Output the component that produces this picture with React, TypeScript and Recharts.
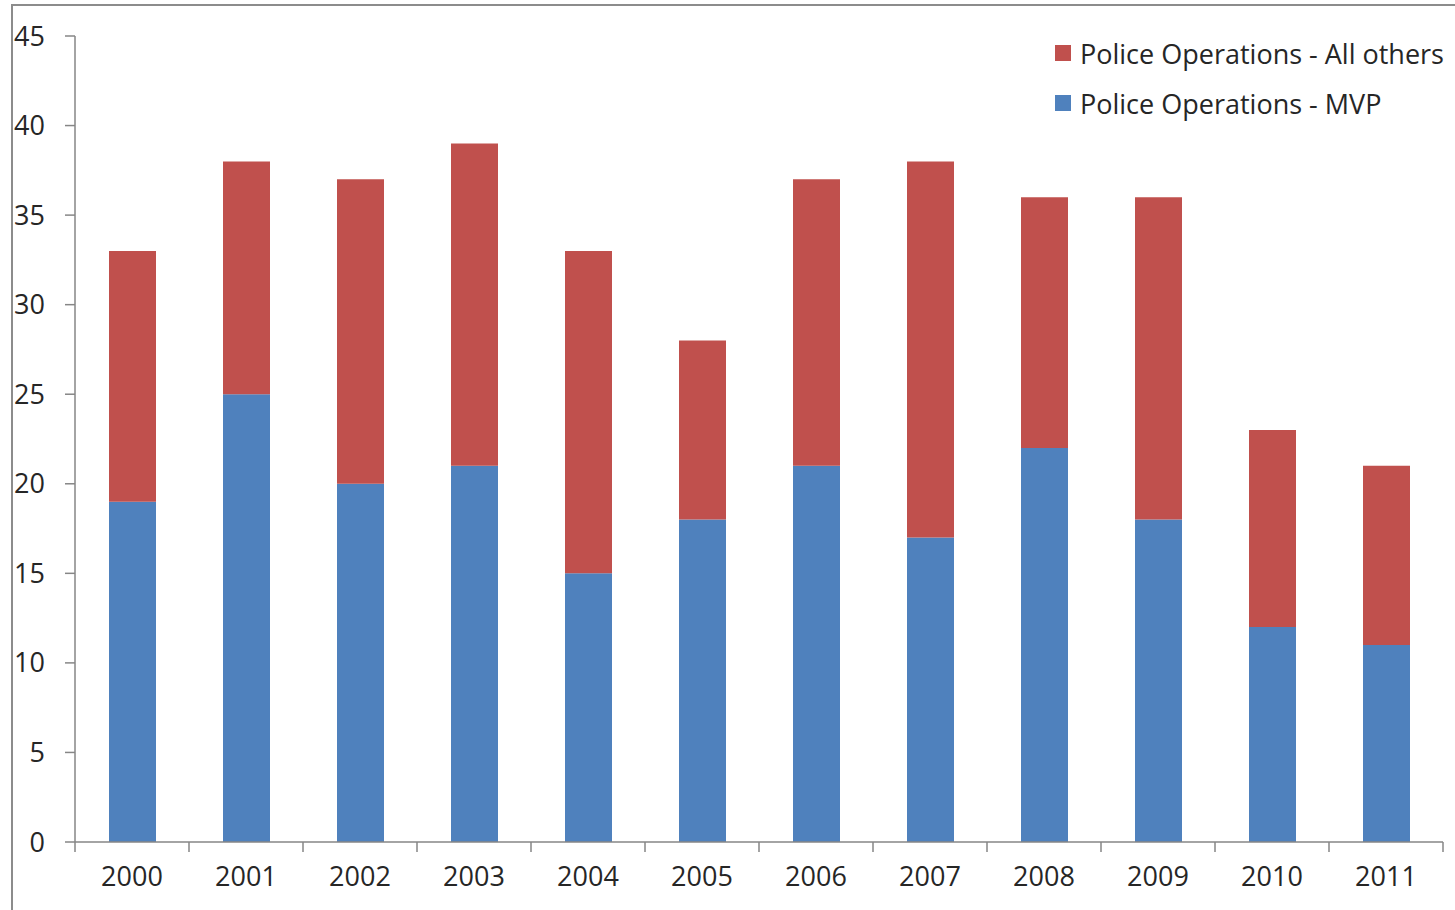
import React from "react";
import { BarChart, Bar, XAxis, YAxis, Legend } from "recharts";

const years = ["2000", "2001", "2002", "2003", "2004", "2005", "2006", "2007", "2008", "2009", "2010", "2011"];
const mvp = [19, 25, 20, 21, 15, 18, 21, 17, 22, 18, 12, 11];
const allOthers = [14, 13, 17, 18, 18, 10, 16, 21, 14, 18, 11, 10];
const yTicks = [0, 5, 10, 15, 20, 25, 30, 35, 40, 45];

const data = years.map((year, i) => ({ year, mvp: mvp[i], others: allOthers[i] }));

const FONT = "'Open Sans', sans-serif";
const AXIS = "#868686";
const TEXT = "#262626";
const BLUE = "#4F81BD";
const RED = "#C0504D";

function YearTick(props: any) {
  const { x, y, payload, index } = props;
  const half = payload.offset || 0;
  const lineTop = y - 15;
  return (
    <g>
      <line x1={x - half} x2={x - half} y1={lineTop - 10} y2={lineTop} stroke={AXIS} strokeWidth={1.5} />
      {index === years.length - 1 && (
        <line x1={x + half} x2={x + half} y1={lineTop - 10} y2={lineTop} stroke={AXIS} strokeWidth={1.5} />
      )}
      <text x={x} y={y} dy="0.71em" textAnchor="middle" fill={TEXT} fontSize={27} fontFamily={FONT}>
        {payload.value}
      </text>
    </g>
  );
}

function LegendBox(props: any) {
  const items = [...(props.payload || [])].sort((a: any, b: any) => (a.dataKey === "others" ? -1 : 1));
  return (
    <div style={{ fontFamily: FONT, fontSize: 27, color: TEXT }}>
      {items.map((it: any) => (
        <div key={it.value} style={{ display: "flex", alignItems: "center", height: 50, whiteSpace: "nowrap" }}>
          <span style={{ width: 16, height: 16, background: it.color, marginRight: 9, display: "inline-block" }} />
          {it.value}
        </div>
      ))}
    </div>
  );
}

export default function App() {
  return (
    <div style={{ position: "absolute", left: 0, top: 0, width: 1455, height: 910, overflow: "hidden", background: "#fff" }}>
      <div
        style={{
          position: "absolute",
          left: 11,
          top: 4,
          width: 1470,
          height: 930,
          border: "2px solid #8c8c8c",
        }}
      />
      <BarChart width={1455} height={910} data={data} margin={{ top: 36, right: 12, bottom: 0, left: 0 }} barSize={47}>
        <XAxis
          dataKey="year"
          height={68}
          stroke={AXIS}
          strokeWidth={1.5}
          tickLine={false}
          tickSize={10}
          tickMargin={15}
          tick={<YearTick />}
        />
        <YAxis
          width={75}
          domain={[0, 45]}
          ticks={yTicks}
          interval={0}
          stroke={AXIS}
          strokeWidth={1.5}
          tickSize={10}
          tickMargin={20}
          tick={{ fill: TEXT, fontSize: 27, fontFamily: FONT }}
        />
        <Legend
          layout="vertical"
          verticalAlign="middle"
          align="center"
          wrapperStyle={{ left: 1055, top: 28, width: 400 }}
          content={<LegendBox />}
        />
        <Bar dataKey="mvp" stackId="a" fill={BLUE} name="Police Operations - MVP" isAnimationActive={false} />
        <Bar dataKey="others" stackId="a" fill={RED} name="Police Operations - All others" isAnimationActive={false} />
      </BarChart>
    </div>
  );
}
